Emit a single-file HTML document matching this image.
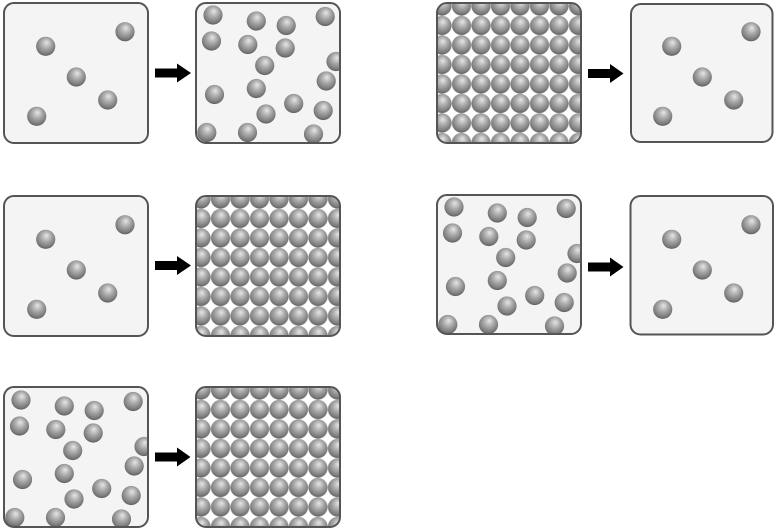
<!DOCTYPE html>
<html>
<head>
<meta charset="utf-8">
<style>
  html,body{margin:0;padding:0;background:#fff;}
  svg{display:block;}
</style>
</head>
<body>
<svg width="778" height="531" viewBox="0 0 778 531" xmlns="http://www.w3.org/2000/svg">
  <defs>
    <radialGradient id="sg" cx="0.5" cy="0.4" r="0.6" fx="0.55" fy="0.3">
      <stop offset="0" stop-color="#e6e6e6"/>
      <stop offset="0.45" stop-color="#a9a9a9"/>
      <stop offset="0.85" stop-color="#7a7a7a"/>
      <stop offset="1" stop-color="#5e5e5e"/>
    </radialGradient>
    <pattern id="p3" patternUnits="userSpaceOnUse" x="432.25" y="-3.75" width="19.5" height="19.5">
      <circle cx="9.75" cy="9.75" r="9.6" fill="url(#sg)"/>
    </pattern>
    <pattern id="p6" patternUnits="userSpaceOnUse" x="191.25" y="189.25" width="19.5" height="19.5">
      <circle cx="9.75" cy="9.75" r="9.6" fill="url(#sg)"/>
    </pattern>
    <pattern id="p10" patternUnits="userSpaceOnUse" x="191.25" y="380.25" width="19.5" height="19.5">
      <circle cx="9.75" cy="9.75" r="9.6" fill="url(#sg)"/>
    </pattern>
    <clipPath id="c2"><rect x="196" y="3" width="144" height="140" rx="10"/></clipPath>
    <clipPath id="c7"><rect x="437" y="195" width="144" height="139" rx="10"/></clipPath>
    <clipPath id="c9"><rect x="4" y="387" width="144" height="140" rx="10"/></clipPath>
  </defs>

  <!-- ROW 1 -->
  <!-- Box 1 sparse -->
  <rect x="4" y="3" width="144" height="140" rx="10" fill="#f4f4f4" stroke="#555" stroke-width="2"/>
  <g transform="translate(4,3)">
    <circle cx="41.7" cy="43.3" r="9.6" fill="url(#sg)"/>
    <circle cx="121" cy="28.7" r="9.6" fill="url(#sg)"/>
    <circle cx="72.3" cy="74" r="9.6" fill="url(#sg)"/>
    <circle cx="103.7" cy="97" r="9.6" fill="url(#sg)"/>
    <circle cx="32.7" cy="113.3" r="9.6" fill="url(#sg)"/>
  </g>
  <polygon transform="translate(155,73)" points="0,-4.5 22,-4.5 22,-9.5 36,0 22,9.5 22,4.5 0,4.5" fill="#000"/>

  <!-- Box 2 gas -->
  <rect x="196" y="3" width="144" height="140" rx="10" fill="#f4f4f4"/>
  <g clip-path="url(#c2)">
    <g transform="translate(196,2)">
      <circle cx="17" cy="13" r="9.6" fill="url(#sg)"/>
      <circle cx="60.3" cy="19" r="9.6" fill="url(#sg)"/>
      <circle cx="90.2" cy="23.5" r="9.6" fill="url(#sg)"/>
      <circle cx="129.2" cy="14.5" r="9.6" fill="url(#sg)"/>
      <circle cx="15.5" cy="39" r="9.6" fill="url(#sg)"/>
      <circle cx="51.8" cy="42.5" r="9.6" fill="url(#sg)"/>
      <circle cx="89.2" cy="46" r="9.6" fill="url(#sg)"/>
      <circle cx="68.7" cy="63.5" r="9.6" fill="url(#sg)"/>
      <circle cx="140" cy="59.5" r="9.6" fill="url(#sg)"/>
      <circle cx="18.5" cy="92.5" r="9.6" fill="url(#sg)"/>
      <circle cx="60.3" cy="86.5" r="9.6" fill="url(#sg)"/>
      <circle cx="130.2" cy="79" r="9.6" fill="url(#sg)"/>
      <circle cx="97.7" cy="101.5" r="9.6" fill="url(#sg)"/>
      <circle cx="70" cy="112" r="9.6" fill="url(#sg)"/>
      <circle cx="127.2" cy="108.5" r="9.6" fill="url(#sg)"/>
      <circle cx="10.8" cy="130.5" r="9.6" fill="url(#sg)"/>
      <circle cx="51.5" cy="130.5" r="9.6" fill="url(#sg)"/>
      <circle cx="117.5" cy="132" r="9.6" fill="url(#sg)"/>
    </g>
  </g>
  <rect x="196" y="3" width="144" height="140" rx="10" fill="none" stroke="#555" stroke-width="2"/>

  <!-- Box 3 dense -->
  <rect x="437" y="3" width="144" height="140" rx="10" fill="#fff"/>
  <rect x="437" y="3" width="144" height="140" rx="10" fill="url(#p3)" stroke="#555" stroke-width="2"/>
  <polygon transform="translate(588,73.5)" points="0,-4.5 22,-4.5 22,-9.5 35.5,0 22,9.5 22,4.5 0,4.5" fill="#000"/>

  <!-- Box 4 sparse -->
  <rect x="631" y="4" width="141.5" height="138" rx="10" fill="#f4f4f4" stroke="#555" stroke-width="2"/>
  <g transform="translate(630,3)">
    <circle cx="41.7" cy="43.3" r="9.6" fill="url(#sg)"/>
    <circle cx="121" cy="28.7" r="9.6" fill="url(#sg)"/>
    <circle cx="72.3" cy="74" r="9.6" fill="url(#sg)"/>
    <circle cx="103.7" cy="97" r="9.6" fill="url(#sg)"/>
    <circle cx="32.7" cy="113.3" r="9.6" fill="url(#sg)"/>
  </g>

  <!-- ROW 2 -->
  <!-- Box 5 sparse -->
  <rect x="4" y="196" width="144" height="140" rx="10" fill="#f4f4f4" stroke="#555" stroke-width="2"/>
  <g transform="translate(4,196)">
    <circle cx="41.7" cy="43.3" r="9.6" fill="url(#sg)"/>
    <circle cx="121" cy="28.7" r="9.6" fill="url(#sg)"/>
    <circle cx="72.3" cy="74" r="9.6" fill="url(#sg)"/>
    <circle cx="103.7" cy="97" r="9.6" fill="url(#sg)"/>
    <circle cx="32.7" cy="113.3" r="9.6" fill="url(#sg)"/>
  </g>
  <polygon transform="translate(155,265.5)" points="0,-4.5 22,-4.5 22,-9.5 36,0 22,9.5 22,4.5 0,4.5" fill="#000"/>

  <!-- Box 6 dense -->
  <rect x="196" y="196" width="144" height="140" rx="10" fill="#fff"/>
  <rect x="196" y="196" width="144" height="140" rx="10" fill="url(#p6)" stroke="#555" stroke-width="2"/>

  <!-- Box 7 gas -->
  <rect x="437" y="195" width="144" height="139" rx="10" fill="#f4f4f4"/>
  <g clip-path="url(#c7)">
    <g transform="translate(437,194)">
      <circle cx="17" cy="13" r="9.6" fill="url(#sg)"/>
      <circle cx="60.3" cy="19" r="9.6" fill="url(#sg)"/>
      <circle cx="90.2" cy="23.5" r="9.6" fill="url(#sg)"/>
      <circle cx="129.2" cy="14.5" r="9.6" fill="url(#sg)"/>
      <circle cx="15.5" cy="39" r="9.6" fill="url(#sg)"/>
      <circle cx="51.8" cy="42.5" r="9.6" fill="url(#sg)"/>
      <circle cx="89.2" cy="46" r="9.6" fill="url(#sg)"/>
      <circle cx="68.7" cy="63.5" r="9.6" fill="url(#sg)"/>
      <circle cx="140" cy="59.5" r="9.6" fill="url(#sg)"/>
      <circle cx="18.5" cy="92.5" r="9.6" fill="url(#sg)"/>
      <circle cx="60.3" cy="86.5" r="9.6" fill="url(#sg)"/>
      <circle cx="130.2" cy="79" r="9.6" fill="url(#sg)"/>
      <circle cx="97.7" cy="101.5" r="9.6" fill="url(#sg)"/>
      <circle cx="70" cy="112" r="9.6" fill="url(#sg)"/>
      <circle cx="127.2" cy="108.5" r="9.6" fill="url(#sg)"/>
      <circle cx="10.8" cy="130.5" r="9.6" fill="url(#sg)"/>
      <circle cx="51.5" cy="130.5" r="9.6" fill="url(#sg)"/>
      <circle cx="117.5" cy="132" r="9.6" fill="url(#sg)"/>
    </g>
  </g>
  <rect x="437" y="195" width="144" height="139" rx="10" fill="none" stroke="#555" stroke-width="2"/>
  <polygon transform="translate(588,267)" points="0,-4.5 22,-4.5 22,-9.5 35.5,0 22,9.5 22,4.5 0,4.5" fill="#000"/>

  <!-- Box 8 sparse -->
  <rect x="630.5" y="196" width="142.5" height="138.5" rx="10" fill="#f4f4f4" stroke="#555" stroke-width="2"/>
  <g transform="translate(630,196)">
    <circle cx="41.7" cy="43.3" r="9.6" fill="url(#sg)"/>
    <circle cx="121" cy="28.7" r="9.6" fill="url(#sg)"/>
    <circle cx="72.3" cy="74" r="9.6" fill="url(#sg)"/>
    <circle cx="103.7" cy="97" r="9.6" fill="url(#sg)"/>
    <circle cx="32.7" cy="113.3" r="9.6" fill="url(#sg)"/>
  </g>

  <!-- ROW 3 -->
  <!-- Box 9 gas -->
  <rect x="4" y="387" width="144" height="140" rx="10" fill="#f4f4f4"/>
  <g clip-path="url(#c9)">
    <g transform="translate(4,387)">
      <circle cx="17" cy="13" r="9.6" fill="url(#sg)"/>
      <circle cx="60.3" cy="19" r="9.6" fill="url(#sg)"/>
      <circle cx="90.2" cy="23.5" r="9.6" fill="url(#sg)"/>
      <circle cx="129.2" cy="14.5" r="9.6" fill="url(#sg)"/>
      <circle cx="15.5" cy="39" r="9.6" fill="url(#sg)"/>
      <circle cx="51.8" cy="42.5" r="9.6" fill="url(#sg)"/>
      <circle cx="89.2" cy="46" r="9.6" fill="url(#sg)"/>
      <circle cx="68.7" cy="63.5" r="9.6" fill="url(#sg)"/>
      <circle cx="140" cy="59.5" r="9.6" fill="url(#sg)"/>
      <circle cx="18.5" cy="92.5" r="9.6" fill="url(#sg)"/>
      <circle cx="60.3" cy="86.5" r="9.6" fill="url(#sg)"/>
      <circle cx="130.2" cy="79" r="9.6" fill="url(#sg)"/>
      <circle cx="97.7" cy="101.5" r="9.6" fill="url(#sg)"/>
      <circle cx="70" cy="112" r="9.6" fill="url(#sg)"/>
      <circle cx="127.2" cy="108.5" r="9.6" fill="url(#sg)"/>
      <circle cx="10.8" cy="130.5" r="9.6" fill="url(#sg)"/>
      <circle cx="51.5" cy="130.5" r="9.6" fill="url(#sg)"/>
      <circle cx="117.5" cy="132" r="9.6" fill="url(#sg)"/>
    </g>
  </g>
  <rect x="4" y="387" width="144" height="140" rx="10" fill="none" stroke="#555" stroke-width="2"/>
  <polygon transform="translate(155,457)" points="0,-4.5 22,-4.5 22,-9.5 35.5,0 22,9.5 22,4.5 0,4.5" fill="#000"/>

  <!-- Box 10 dense -->
  <rect x="196" y="387" width="144" height="140" rx="10" fill="#fff"/>
  <rect x="196" y="387" width="144" height="140" rx="10" fill="url(#p10)" stroke="#555" stroke-width="2"/>
</svg>
</body>
</html>
